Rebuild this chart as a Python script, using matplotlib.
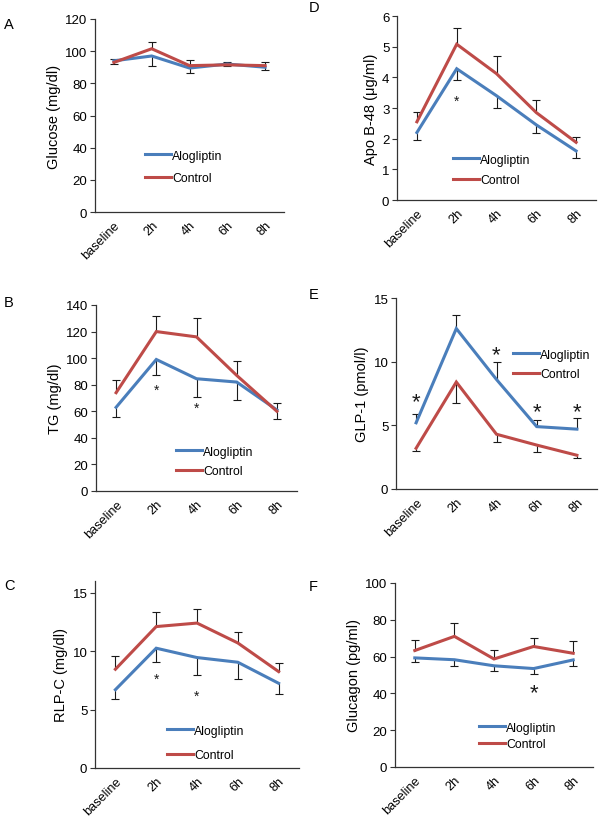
import matplotlib
matplotlib.use("Agg")
import matplotlib.pyplot as plt
import numpy as np

plt.rcParams['font.family'] = ['Liberation Sans', 'DejaVu Sans']

categories = ["baseline", "2h", "4h", "6h", "8h"]
series_names = ["Alogliptin", "Control"]

# A: Glucose
glu_alo = [94, 97, 89.5, 92, 90]
glu_con = [93, 101.5, 91, 91.5, 91]
glu_alo_err_lo = [0, 6.5, 3.0, 1.5, 1.5]
glu_alo_err_hi = [1.0, 0, 0, 0, 0]
glu_con_err_lo = [0.8, 0, 0, 0, 0]
glu_con_err_hi = [0, 4.1, 3.8, 1.9, 2.2]
glu_stars_x = []
glu_stars_y = []

# D: Apo B-48
apo_alo = [2.2, 4.28, 3.4, 2.45, 1.6]
apo_con = [2.55, 5.08, 4.12, 2.85, 1.88]
apo_alo_err_lo = [0.23, 0.38, 0.4, 0.27, 0.22]
apo_alo_err_hi = [0, 0, 0, 0, 0]
apo_con_err_lo = [0, 0, 0, 0, 0]
apo_con_err_hi = [0.31, 0.53, 0.56, 0.4, 0.19]
apo_stars_x = [1]
apo_stars_y = [3.38]

# B: TG
tg_alo = [63, 99, 84.5, 82, 61]
tg_con = [74, 120, 116, 87, 60]
tg_alo_err_lo = [7.5, 11.5, 13.5, 13.2, 7]
tg_alo_err_hi = [0, 0, 0, 0, 0]
tg_con_err_lo = [0, 0, 0, 0, 0]
tg_con_err_hi = [9.8, 11.5, 14, 10.5, 6.3]
tg_stars_x = [1, 2]
tg_stars_y = [79, 65.8]

# E: GLP-1
glp_alo = [5.2, 12.6, 8.6, 4.9, 4.7]
glp_con = [3.2, 8.4, 4.3, 3.45, 2.65]
glp_alo_err_lo = [0, 0, 0, 0, 0]
glp_alo_err_hi = [0.7, 1.05, 1.4, 0.5, 0.88]
glp_con_err_lo = [0.22, 1.65, 0.62, 0.56, 0.2]
glp_con_err_hi = [0, 0, 0, 0, 0]
glp_stars_x = [0, 2, 3, 4]
glp_stars_y = [7.37, 11.1, 6.58, 6.58]

# C: RLP-C
rlp_alo = [6.7, 10.25, 9.45, 9.05, 7.25]
rlp_con = [8.45, 12.1, 12.4, 10.7, 8.25]
rlp_alo_err_lo = [0.82, 1.15, 1.45, 1.42, 0.9]
rlp_alo_err_hi = [0, 0, 0, 0, 0]
rlp_con_err_lo = [0, 0, 0, 0, 0]
rlp_con_err_hi = [1.13, 1.25, 1.2, 0.93, 0.72]
rlp_stars_x = [1, 2]
rlp_stars_y = [8.0, 6.57]

# F: Glucagon
gcg_alo = [59.3, 58.3, 55, 53.5, 58.2]
gcg_con = [63.3, 71, 58.7, 65.5, 61.8]
gcg_alo_err_lo = [2.5, 3.5, 2.6, 3.0, 3.2]
gcg_alo_err_hi = [0, 0, 0, 0, 0]
gcg_con_err_lo = [0, 0, 0, 0, 0]
gcg_con_err_hi = [5.7, 7.2, 4.8, 4.7, 6.6]
gcg_stars_x = [3]
gcg_stars_y = [44.4]

BLUE = "#4a7ebb"
RED = "#be4b48"
W, H = 600, 820

fig = plt.figure(figsize=(6, 8.2), dpi=100)

def px_axes(l, r, t, b):
    return fig.add_axes([l / W, 1 - b / H, (r - l) / W, (b - t) / H])

panels = [
    dict(letter="A", rect=(95, 284, 20, 213), ylim=(0, 120), yticks=[0, 20, 40, 60, 80, 100, 120],
         ylabel="Glucose (mg/dl)", alo=glu_alo, con=glu_con,
         ae=(glu_alo_err_lo, glu_alo_err_hi), ce=(glu_con_err_lo, glu_con_err_hi),
         sx=glu_stars_x, sy=glu_stars_y, big=False, leg=(145, 168), ls=0.88, let=(4, 25)),
    dict(letter="D", rect=(397, 596, 17, 201), ylim=(0, 6), yticks=[0, 1, 2, 3, 4, 5, 6],
         ylabel="Apo B-48 (\u03bcg/ml)", alo=apo_alo, con=apo_con,
         ae=(apo_alo_err_lo, apo_alo_err_hi), ce=(apo_con_err_lo, apo_con_err_hi),
         sx=apo_stars_x, sy=apo_stars_y, big=False, leg=(453, 171), ls=0.7, let=(309, 8)),
    dict(letter="B", rect=(96, 297, 306, 492), ylim=(0, 140), yticks=[0, 20, 40, 60, 80, 100, 120, 140],
         ylabel="TG (mg/dl)", alo=tg_alo, con=tg_con,
         ae=(tg_alo_err_lo, tg_alo_err_hi), ce=(tg_con_err_lo, tg_con_err_hi),
         sx=tg_stars_x, sy=tg_stars_y, big=False, leg=(176, 462.5), ls=0.62, let=(4, 303)),
    dict(letter="E", rect=(396, 597, 299, 490), ylim=(0, 15), yticks=[0, 5, 10, 15],
         ylabel="GLP-1 (pmol/l)", alo=glp_alo, con=glp_con,
         ae=(glp_alo_err_lo, glp_alo_err_hi), ce=(glp_con_err_lo, glp_con_err_hi),
         sx=glp_stars_x, sy=glp_stars_y, big=True, leg=(513, 365.5), ls=0.62, let=(309, 295)),
    dict(letter="C", rect=(95, 299, 582, 769), ylim=(0, 16), yticks=[0, 5, 10, 15],
         ylabel="RLP-C (mg/dl)", alo=rlp_alo, con=rlp_con,
         ae=(rlp_alo_err_lo, rlp_alo_err_hi), ce=(rlp_con_err_lo, rlp_con_err_hi),
         sx=rlp_stars_x, sy=rlp_stars_y, big=False, leg=(167, 744), ls=1.05, let=(4, 586)),
    dict(letter="F", rect=(395, 593, 584, 768), ylim=(0, 100), yticks=[0, 20, 40, 60, 80, 100],
         ylabel="Glucagon (pg/ml)", alo=gcg_alo, con=gcg_con,
         ae=(gcg_alo_err_lo, gcg_alo_err_hi), ce=(gcg_con_err_lo, gcg_con_err_hi),
         sx=gcg_stars_x, sy=gcg_stars_y, big=True, leg=(479, 737), ls=0.38, let=(309, 587)),
]

x = np.arange(len(categories))

for p in panels:
    ax = px_axes(*p["rect"])
    for vals, errs, color, name in ((p["alo"], p["ae"], BLUE, series_names[0]),
                                    (p["con"], p["ce"], RED, series_names[1])):
        vals = np.asarray(vals, float)
        lo = np.asarray(errs[0], float)
        hi = np.asarray(errs[1], float)
        ax.errorbar(x, vals, yerr=[lo, hi], fmt="none", ecolor="#1a1a1a",
                    elinewidth=0.8, capsize=0, zorder=2)
        ends = np.where(hi > 0, vals + hi, np.where(lo > 0, vals - lo, np.nan))
        ax.plot(x, ends, linestyle="none", marker="_", markersize=6,
                markeredgewidth=0.8, color="#1a1a1a", zorder=2)
        ax.plot(x, vals, color=color, lw=2.2, label=name, zorder=3,
                solid_joinstyle="miter")
    for sx, sy in zip(p["sx"], p["sy"]):
        if p["big"]:
            ax.annotate("*", (sx, sy), xytext=(0, -5), textcoords="offset points",
                        ha="center", va="center", fontsize=16, color="#1a1a1a")
        else:
            ax.annotate("*", (sx, sy), xytext=(0, -3), textcoords="offset points",
                        ha="center", va="center", fontsize=10, color="#1a1a1a")
    ax.set_xlim(-0.5, len(categories) - 0.5)
    ax.set_ylim(*p["ylim"])
    ax.set_yticks(p["yticks"])
    ax.set_xticks(x)
    ax.set_xticklabels(categories, rotation=45, ha="right", rotation_mode="anchor")
    ax.tick_params(axis="x", length=0, pad=5, labelsize=9.2)
    ax.tick_params(axis="y", length=3.5, width=0.8, direction="out", pad=2, labelsize=9.5,
                   color="#333333")
    for s in ("top", "right"):
        ax.spines[s].set_visible(False)
    for s in ("left", "bottom"):
        ax.spines[s].set_linewidth(0.9)
        ax.spines[s].set_color("#333333")
    ax.set_ylabel(p["ylabel"], fontsize=10.5, labelpad=3)
    lx, ly = p["leg"]
    ax.legend(loc="center left", bbox_to_anchor=(lx / W, 1 - ly / H),
              bbox_transform=fig.transFigure, frameon=False, fontsize=8.8,
              handlelength=2.1, handletextpad=0.1, labelspacing=p["ls"],
              borderpad=0, borderaxespad=0)
    tx, ty = p["let"]
    fig.text(tx / W, 1 - ty / H, p["letter"], fontsize=10.5, ha="left", va="center")

fig.savefig("out.png", dpi=100)
